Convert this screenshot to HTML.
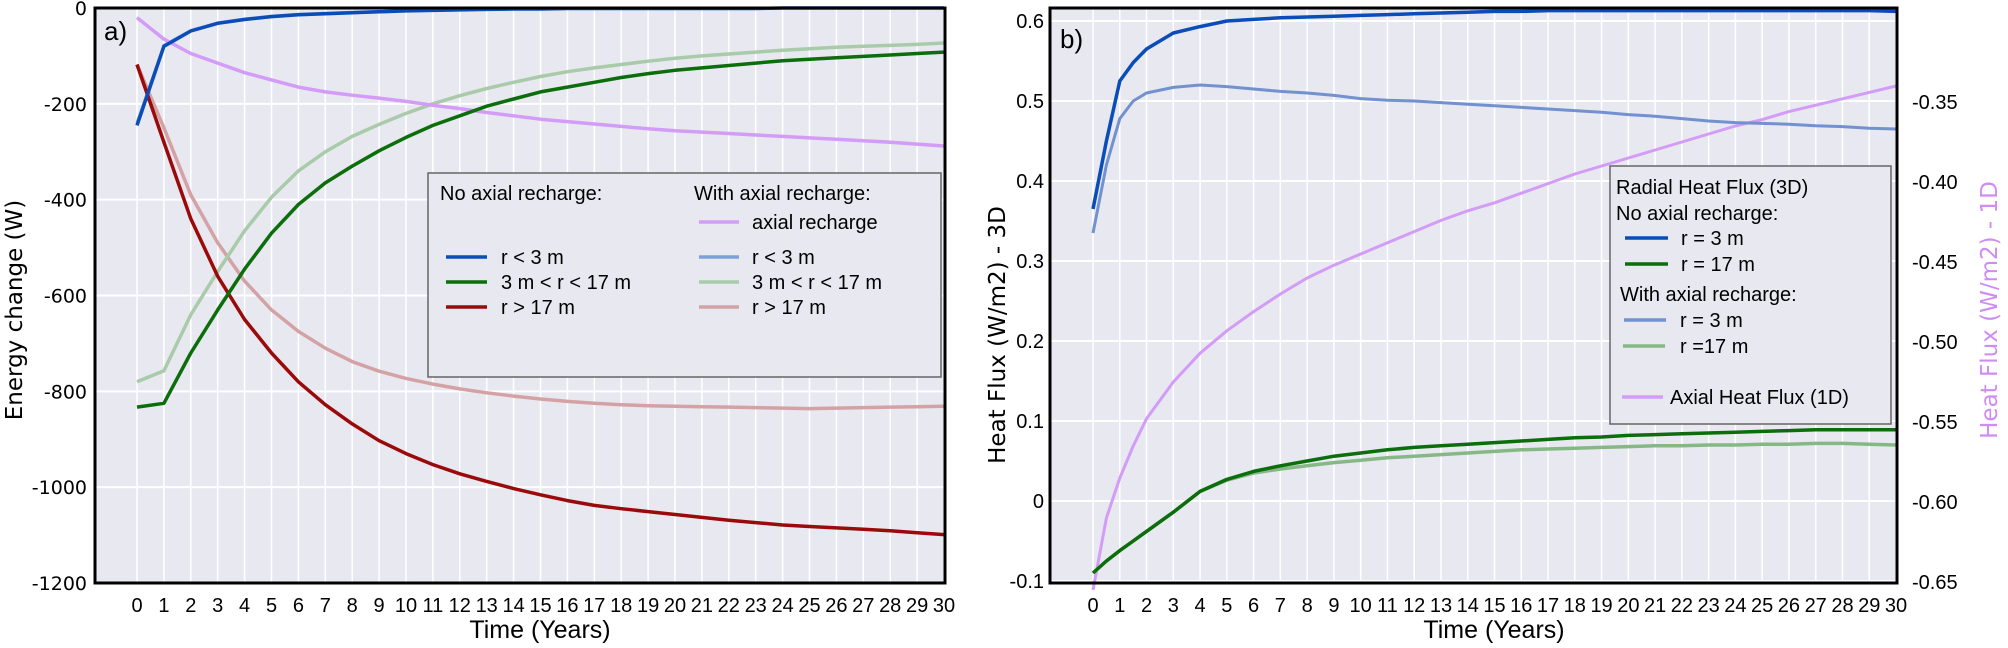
<!DOCTYPE html>
<html><head><meta charset="utf-8"><style>
html,body{margin:0;padding:0;background:#fff;}
svg{display:block;}
text{font-family:"Liberation Sans Narrow","Liberation Sans",sans-serif;fill:#000;}
.wide{font-family:"DejaVu Sans","Liberation Sans",sans-serif;}
</style></head><body>
<svg id="chart" width="2008" height="648" viewBox="0 0 2008 648"></svg>
<script>
// ---------- Panel a data ----------
const yearsA = [0,1,2,3,4,5,6,7,8,9,10,11,12,13,14,15,16,17,18,19,20,21,22,23,24,25,26,27,28,29,30];
const blueA = [-245,-80,-48,-32,-24,-18,-14,-12,-10,-8,-6,-5,-4,-3,-2,-2,-1,-1,-1,-1,-1,-1,-1,-1,0,0,0,0,0,0,0];
const axialA = [-20,-65,-95,-115,-135,-150,-165,-175,-182,-188,-195,-203,-210,-218,-225,-232,-237,-242,-247,-252,-256,-259,-262,-265,-268,-271,-274,-277,-280,-284,-288];
const lightBlueA = [-240,-78,-47,-31,-23,-17,-13,-11,-9,-7,-6,-5,-4,-3,-2,-2,-1,-1,-1,-1,-1,-1,-1,-1,0,0,0,0,0,0,0];
const greenA = [-833,-825,-720,-630,-545,-470,-410,-365,-330,-298,-270,-245,-225,-205,-190,-175,-165,-155,-145,-137,-130,-125,-120,-115,-110,-107,-104,-101,-98,-95,-92];
const lightGreenA = [-780,-757,-640,-550,-465,-395,-340,-300,-268,-243,-220,-200,-183,-168,-155,-143,-133,-125,-118,-111,-105,-100,-96,-92,-88,-85,-82,-80,-78,-76,-73];
const redA = [-118,-280,-440,-560,-650,-720,-780,-828,-868,-903,-930,-953,-972,-988,-1003,-1016,-1028,-1038,-1045,-1051,-1057,-1063,-1069,-1074,-1079,-1082,-1085,-1088,-1091,-1095,-1099];
const lightRedA = [-118,-250,-390,-490,-570,-630,-675,-710,-738,-758,-773,-785,-795,-803,-810,-816,-821,-825,-828,-830,-831,-832,-833,-834,-835,-836,-835,-834,-833,-832,-831];
const yTicksA = [0,-200,-400,-600,-800,-1000,-1200];
const xTickLabels = [0,1,2,3,4,5,6,7,8,9,10,11,12,13,14,15,16,17,18,19,20,21,22,23,24,25,26,27,28,29,30];

// ---------- Panel b data ----------
const yearsB = [0,0.5,1,1.5,2,3,4,5,6,7,8,9,10,11,12,13,14,15,16,17,18,19,20,21,22,23,24,25,26,27,28,29,30];
const blueB = [0.365,0.45,0.525,0.548,0.565,0.585,0.593,0.600,0.602,0.604,0.605,0.606,0.607,0.608,0.609,0.610,0.611,0.612,0.612,0.613,0.613,0.613,0.613,0.613,0.613,0.613,0.613,0.613,0.613,0.613,0.613,0.613,0.612];
const lightBlueB = [0.335,0.42,0.478,0.50,0.51,0.517,0.52,0.518,0.515,0.512,0.51,0.507,0.503,0.501,0.5,0.498,0.496,0.494,0.492,0.49,0.488,0.486,0.483,0.481,0.478,0.475,0.473,0.472,0.471,0.469,0.468,0.466,0.465];
const greenB = [-0.09,-0.075,-0.062,-0.05,-0.038,-0.014,0.012,0.027,0.037,0.044,0.050,0.056,0.060,0.064,0.067,0.069,0.071,0.073,0.075,0.077,0.079,0.080,0.082,0.083,0.084,0.085,0.086,0.087,0.088,0.089,0.089,0.089,0.089];
const lightGreenB = [-0.09,-0.075,-0.062,-0.05,-0.038,-0.014,0.012,0.026,0.035,0.040,0.044,0.048,0.051,0.054,0.056,0.058,0.060,0.062,0.064,0.065,0.066,0.067,0.068,0.069,0.069,0.070,0.070,0.071,0.071,0.072,0.072,0.071,0.070];
const axialB = [-0.655,-0.61,-0.585,-0.565,-0.548,-0.525,-0.507,-0.493,-0.481,-0.470,-0.460,-0.452,-0.445,-0.438,-0.431,-0.424,-0.418,-0.413,-0.407,-0.401,-0.395,-0.390,-0.385,-0.380,-0.375,-0.370,-0.365,-0.361,-0.356,-0.352,-0.348,-0.344,-0.340];
const yTicksB = [0.6,0.5,0.4,0.3,0.2,0.1,0,-0.1];
const yTickLabelsB = ["0.6","0.5","0.4","0.3","0.2","0.1","0","-0.1"];
const yTicksB2 = [-0.35,-0.40,-0.45,-0.50,-0.55,-0.60,-0.65];
const yTickLabelsB2 = ["-0.35","-0.40","-0.45","-0.50","-0.55","-0.60","-0.65"];

const NS = "http://www.w3.org/2000/svg";
const svg = document.getElementById("chart");
function mk(tag, attrs, parent){
  const e = document.createElementNS(NS, tag);
  for (const k in attrs) e.setAttribute(k, attrs[k]);
  (parent||svg).appendChild(e);
  return e;
}
function txt(s, x, y, size, anchor, parent, cls){
  const t = mk("text", {x:x, y:y, "font-size":size, "text-anchor":anchor||"start"}, parent);
  if (cls) t.setAttribute("class", cls);
  t.textContent = s;
  return t;
}

// ---------- Panel a ----------
const A = {l:95, r:945, t:8, b:583, x0:137, x30:944};
const xA = v => A.x0 + (A.x30 - A.x0) * v / 30;
const yA = v => A.t + (0 - v) / 1200 * (A.b - A.t);
const gA = mk("g", {});


const bgA = mk("rect", {x:A.l, y:A.t, width:A.r-A.l, height:A.b-A.t, fill:"#e8e8f1"}, gA);


xTickLabels.forEach(v => {
  const ln = mk("line", {x1:xA(v), x2:xA(v), y1:A.t, y2:A.b, stroke:"#fff", "stroke-width":1.5}, gA);
  
  
  const t = txt(String(v), xA(v), 612, 20, "middle", gA);
  
  
});
yTicksA.forEach(v => {
  const ln = mk("line", {x1:A.l, x2:A.r, y1:yA(v), y2:yA(v), stroke:"#fff", "stroke-width":2}, gA);
  
  
  const t = txt(String(v), A.l-8, yA(v)+7, 19, "end", gA, "wide");
  
  
});
function seriesA(vals, color, w, name){
  const d = vals.map((v,i) => (i?"L":"M") + xA(yearsA[i]).toFixed(1) + "," + yA(v).toFixed(1)).join(" ");
  const p = mk("path", {d:d, fill:"none", stroke:color, "stroke-width":w, "stroke-linejoin":"round"}, gA);
  
  
}
seriesA(lightRedA, "#d4a2a4", 3.5, "line-r-gt-17-axial");
seriesA(lightGreenA, "#a9cba9", 3.5, "line-3-17-axial");
seriesA(lightBlueA, "#7f9fd8", 3, "line-r-lt-3-axial");
seriesA(axialA, "#d39cf6", 3.5, "line-axial-recharge");
seriesA(redA, "#9b0a0a", 3.5, "line-r-gt-17");
seriesA(greenA, "#0b6e0b", 3.5, "line-3-17");
seriesA(blueA, "#0b4db8", 3.5, "line-r-lt-3");
const frA = mk("rect", {x:A.l, y:A.t, width:A.r-A.l, height:A.b-A.t, fill:"none", stroke:"#000", "stroke-width":3}, gA);


const la = txt("a)", 104, 40, 26, "start", gA);


const xtA = txt("Time (Years)", 540, 638, 25, "middle", gA);


const ytA = txt("Energy change (W)", 0, 0, 23, "middle", gA, "wide");
ytA.setAttribute("transform", "translate(22,310) rotate(-90)");



// legend a
const lgA = mk("g", {}, gA);


mk("rect", {x:428, y:173, width:513, height:204, fill:"#e8e8f1", stroke:"#666", "stroke-width":1.5}, lgA);
txt("No axial recharge:", 440, 200, 20, "start", lgA);
txt("With axial recharge:", 694, 200, 20, "start", lgA);
function legendEntry(par, x1, x2, y, color, label, tx, name){
  const g = mk("g", {}, par);
  
  
  mk("line", {x1:x1, x2:x2, y1:y, y2:y, stroke:color, "stroke-width":3.5}, g);
  txt(label, tx, y+7, 20, "start", g);
}
legendEntry(lgA, 446, 487, 257, "#0b4db8", "r < 3 m", 501, "legend-entry-r-lt-3");
legendEntry(lgA, 446, 487, 282, "#0b6e0b", "3 m < r < 17 m", 501, "legend-entry-3-17");
legendEntry(lgA, 446, 487, 307, "#9b0a0a", "r > 17 m", 501, "legend-entry-r-gt-17");
legendEntry(lgA, 699, 739, 222, "#d39cf6", "axial recharge", 752, "legend-entry-axial");
legendEntry(lgA, 699, 739, 257, "#7f9fd8", "r < 3 m", 752, "legend-entry-r-lt-3-axial");
legendEntry(lgA, 699, 739, 282, "#a9cba9", "3 m < r < 17 m", 752, "legend-entry-3-17-axial");
legendEntry(lgA, 699, 739, 307, "#d4a2a4", "r > 17 m", 752, "legend-entry-r-gt-17-axial");

// ---------- Panel b ----------
const B = {l:1050, r:1897, t:8, b:583, x0:1093, x30:1896};
const xB = v => B.x0 + (B.x30 - B.x0) * v / 30;
const yB = v => 501 - v * 800;
const yB2 = v => 582 - (v + 0.65) * 1600;
const gB = mk("g", {});


const bgB = mk("rect", {x:B.l, y:B.t, width:B.r-B.l, height:B.b-B.t, fill:"#e8e8f1"}, gB);


xTickLabels.forEach(v => {
  const ln = mk("line", {x1:xB(v), x2:xB(v), y1:B.t, y2:B.b, stroke:"#fff", "stroke-width":1.5}, gB);
  
  
  const t = txt(String(v), xB(v), 612, 20, "middle", gB);
  
  
});
yTicksB.forEach((v,i) => {
  const ln = mk("line", {x1:B.l, x2:B.r, y1:yB(v), y2:yB(v), stroke:"#fff", "stroke-width":2}, gB);
  
  
  const t = txt(yTickLabelsB[i], B.l-6, yB(v)+7, 20, "end", gB);
  
  
});
yTicksB2.forEach((v,i) => {
  const t = txt(yTickLabelsB2[i], 1912, yB2(v)+7, 20, "start", gB);
  
  
});
function seriesB(vals, yf, color, w, name){
  const d = vals.map((v,i) => (i?"L":"M") + xB(yearsB[i]).toFixed(1) + "," + yf(v).toFixed(1)).join(" ");
  const p = mk("path", {d:d, fill:"none", stroke:color, "stroke-width":w, "stroke-linejoin":"round"}, gB);
  
  
}
seriesB(axialB, yB2, "#d39cf6", 3, "line-axial-heat-flux");
seriesB(lightBlueB, yB, "#7191cf", 3, "line-r3-axial");
seriesB(lightGreenB, yB, "#86b886", 3.5, "line-r17-axial");
seriesB(greenB, yB, "#0b6e0b", 3.5, "line-r17");
seriesB(blueB, yB, "#0b4db8", 3.5, "line-r3");
const frB = mk("rect", {x:B.l, y:B.t, width:B.r-B.l, height:B.b-B.t, fill:"none", stroke:"#000", "stroke-width":3}, gB);


const lb = txt("b)", 1060, 48, 26, "start", gB);


const xtB = txt("Time (Years)", 1494, 638, 25, "middle", gB);


const ytB = txt("Heat Flux (W/m2) - 3D", 0, 0, 23, "middle", gB, "wide");
ytB.setAttribute("transform", "translate(1005,335) rotate(-90)");


const ytB2 = txt("Heat Flux (W/m2) - 1D", 0, 0, 23, "middle", gB, "wide");
ytB2.setAttribute("transform", "translate(1997,310) rotate(-90)");
ytB2.setAttribute("style", "fill:#d08cf5");



// legend b
const lgB = mk("g", {}, gB);


mk("rect", {x:1610, y:166, width:281, height:258, fill:"#e8e8f1", stroke:"#666", "stroke-width":1.5}, lgB);
txt("Radial Heat Flux (3D)", 1616, 194, 20, "start", lgB);
txt("No axial recharge:", 1616, 220, 20, "start", lgB);
txt("With axial recharge:", 1620, 301, 20, "start", lgB);
legendEntry(lgB, 1625, 1668, 238, "#0b4db8", "r = 3 m", 1681, "legend-entry-b-r3");
legendEntry(lgB, 1625, 1668, 264, "#0b6e0b", "r = 17 m", 1681, "legend-entry-b-r17");
legendEntry(lgB, 1624, 1666, 320, "#7191cf", "r = 3 m", 1680, "legend-entry-b-r3-axial");
legendEntry(lgB, 1623, 1665, 346, "#86b886", "r =17 m", 1680, "legend-entry-b-r17-axial");
legendEntry(lgB, 1622, 1663, 397, "#d39cf6", "Axial Heat Flux (1D)", 1670, "legend-entry-b-axial");
</script>
</body></html>
